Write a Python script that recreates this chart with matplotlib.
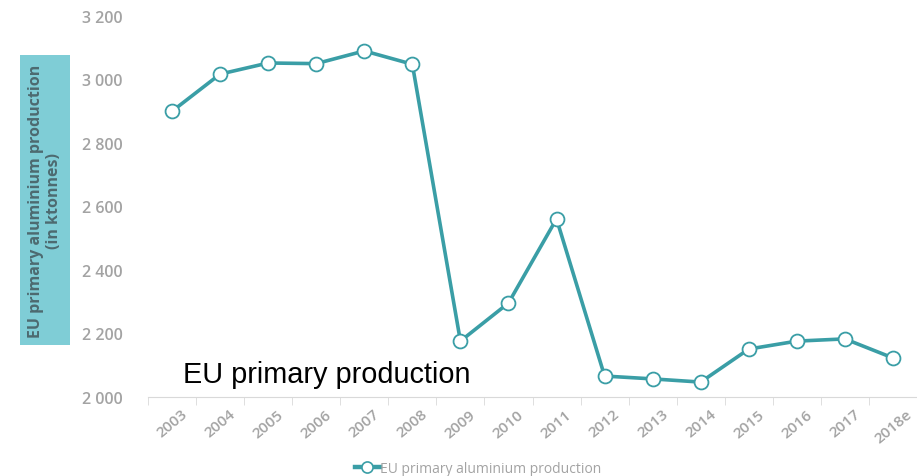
import matplotlib.pyplot as plt
from matplotlib.lines import Line2D

# EU primary aluminium production (ktonnes)
years = ["2003", "2004", "2005", "2006", "2007", "2008", "2009", "2010",
         "2011", "2012", "2013", "2014", "2015", "2016", "2017", "2018e"]
production = [2900, 3017, 3052, 3050, 3090, 3048, 2176, 2296,
              2561, 2066, 2057, 2047, 2151, 2176, 2183, 2123]
y_ticks = [2000, 2200, 2400, 2600, 2800, 3000, 3200]
y_tick_labels = ["2 000", "2 200", "2 400", "2 600", "2 800", "3 000", "3 200"]

teal = "#3a9ea6"
grey = "#a3a3a3"

fig = plt.figure(figsize=(9.17, 4.77), dpi=100)
ax = fig.add_axes([148 / 917, 79 / 477, (917 - 148) / 917, (398 - 17) / 477])

x = range(len(years))
ax.plot(x, production, color=teal, lw=2.6, marker="o", markersize=10,
        markerfacecolor="white", markeredgecolor=teal, markeredgewidth=1.3)

ax.set_ylim(2000, 3200)
ax.set_xlim(-0.5, 15.4)
ax.set_yticks(y_ticks)
ax.set_yticklabels(y_tick_labels)
ax.set_xticks(list(x))
ax.set_xticklabels(years, rotation=40, ha="center")
# ticks between categories
ax.set_xticks([i - 0.5 for i in range(len(years) + 1)], minor=True)
ax.tick_params(axis="x", which="major", length=0, pad=7, labelsize=11, labelcolor=grey)
ax.tick_params(axis="x", which="minor", length=6, color="#d9d9d9")
ax.tick_params(axis="y", length=0, pad=18, labelsize=11.5, labelcolor=grey)
for lbl in ax.get_xticklabels() + ax.get_yticklabels():
    lbl.set_family("Open Sans")
    lbl.set_fontweight("semibold")

for s in ["top", "right", "left"]:
    ax.spines[s].set_visible(False)
ax.spines["bottom"].set_color("#d9d9d9")

# y label in a teal box
fig.text(45 / 917, 1 - 201 / 477, "EU primary aluminium production\n(in ktonnes)",
         rotation=90, ha="center", va="center", family="Open Sans",
         fontweight="bold", fontsize=11.5, color="#4d6a70", linespacing=1.1,
         bbox=dict(boxstyle="square,pad=0.5", fc="#7fcdd6", ec="none"))

# overlay text
fig.text(183 / 917, 1 - 375 / 477, "EU primary production", family="Liberation Sans",
         fontsize=20.8, color="black", va="center", ha="left")

handle = Line2D([], [], color=teal, lw=3.2, marker="o", markersize=8,
                markerfacecolor="white", markeredgecolor=teal, markeredgewidth=1.2)
ax.legend([handle], ["EU primary aluminium production"], loc="upper center",
          bbox_to_anchor=((478 - 148) / 769, -0.135),
          frameon=False, handlelength=1.8, handletextpad=0.0,
          prop={"family": "Open Sans", "size": 10}, labelcolor=grey)

fig.savefig("out.png", dpi=100)
